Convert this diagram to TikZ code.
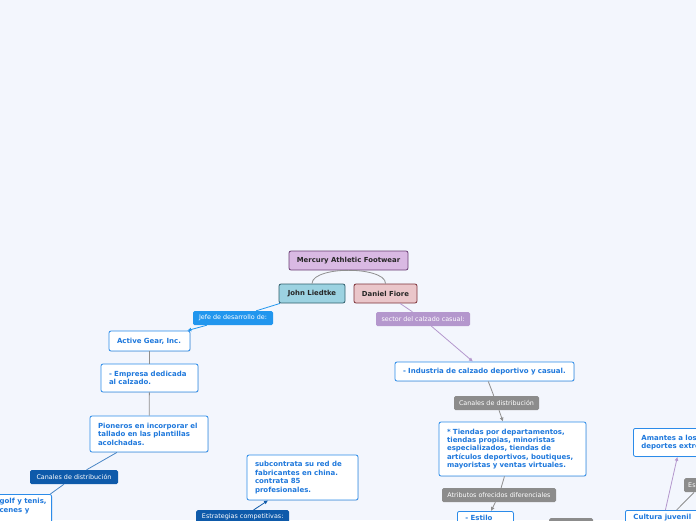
\documentclass[tikz,border=0pt]{standalone}
\usepackage{fontspec}
\setmainfont{DejaVu Sans}
\usetikzlibrary{positioning,shadows,arrows.meta}

\definecolor{canvas}{HTML}{F3F6FD}
\definecolor{mercfill}{HTML}{D9B9E3}
\definecolor{mercline}{HTML}{6A3F74}
\definecolor{johnfill}{HTML}{9CD2E1}
\definecolor{johnline}{HTML}{2F5E6C}
\definecolor{danfill}{HTML}{EAC6CA}
\definecolor{danline}{HTML}{7C3239}
\definecolor{leafblue}{HTML}{2B8BE9}
\definecolor{leaftext}{HTML}{1E78DC}
\definecolor{tagblue}{HTML}{2196EE}
\definecolor{tagnavy}{HTML}{0E5AAA}
\definecolor{tagpurple}{HTML}{B497CD}
\definecolor{taggray}{HTML}{8C8C8C}
\definecolor{linegray}{HTML}{8E8E8E}
\definecolor{steel}{HTML}{4A86C5}

\begin{document}
\begin{tikzpicture}[
    x=1pt,y=-1pt,
    topic/.style={rectangle,draw,line width=0.8pt,rounded corners=2pt,font=\fontsize{6.9}{8}\selectfont\bfseries,text=black!85,inner sep=0pt},
    leaf/.style={rectangle,draw=leafblue,line width=0.8pt,fill=white,rounded corners=2pt,text=leaftext,font=\fontsize{7}{8.4}\selectfont\bfseries,align=left,inner xsep=8pt,inner ysep=4pt,drop shadow={shadow xshift=0.6pt,shadow yshift=-0.6pt,opacity=0.2}},
    tag/.style={rectangle,rounded corners=1.5pt,text=white,font=\fontsize{6.4}{7}\selectfont,minimum height=14pt,inner xsep=4pt,inner ysep=0pt},
    link/.style={line width=0.8pt},
    arrow/.style={link,-{Latex[length=4pt,width=4pt]}}
]
    \useasboundingbox (0,0) rectangle (696,520);
    \clip (0,0) rectangle (696,520);
    \fill[canvas] (0,0) rectangle (696,520);

    % Central topic and the two people
    \node[topic,fill=mercfill,draw=mercline,minimum width=119pt,minimum height=19pt] (mercury) at (348.5,260.5) {Mercury Athletic Footwear};
    \node[topic,fill=johnfill,draw=johnline,minimum width=66pt,minimum height=19pt] (john) at (312,293.5) {John Liedtke};
    \node[topic,fill=danfill,draw=danline,minimum width=63pt,minimum height=19pt] (daniel) at (385.5,293.5) {Daniel Fiore};

    % Left branch
    \node[tag,fill=tagblue,minimum width=80pt] (jefe) at (233,318) {Jefe de desarrollo de:};
    \node[leaf,text width=65pt,minimum height=20pt] (active) at (149.5,341) {Active Gear, Inc.};
    \node[leaf,text width=81pt,minimum height=28pt] (empresa) at (149.5,378) {- Empresa dedicada\\al calzado.};
    \node[leaf,text width=102pt,minimum height=36pt] (pioneros) at (149,434) {Pioneros en incorporar el\\tallado en las plantillas\\acolchadas.};
    \node[tag,fill=tagnavy,minimum width=88pt] (canalesA) at (74,477) {Canales de distribución};
    \node[leaf,anchor=north east,inner xsep=5pt] (golf) at (52,494) {golf y tenis,\\cenes y\\\mbox{}\\\mbox{}};
    \node[tag,fill=tagnavy,anchor=north west,minimum width=93pt] (estrat) at (196,510) {Estrategias competitivas:};
    \node[leaf,text width=95pt,minimum height=45pt] (subcon) at (302.5,477.5) {subcontrata su red de\\fabricantes en china.\\contrata 85\\profesionales.};

    % Right branch
    \node[tag,fill=tagpurple,minimum width=94pt] (sector) at (423,319) {sector del calzado casual:};
    \node[leaf,text width=163pt,minimum height=19pt] (industria) at (484.5,371.5) {- Industria de calzado deportivo y casual.};
    \node[tag,fill=taggray,minimum width=85pt] (canalesB) at (496.5,403) {Canales de distribución};
    \node[leaf,text width=131pt,minimum height=54pt] (tiendas) at (512.5,449) {* Tiendas por departamentos,\\tiendas propias, minoristas\\especializados, tiendas de\\artículos deportivos, boutiques,\\mayoristas y ventas virtuales.};
    \node[tag,fill=taggray,minimum width=114pt] (atributos) at (499,495) {Atributos ofrecidos diferenciales};
    \node[leaf,anchor=north west,text width=40pt] (estilo) at (457,511) {- Estilo\\\mbox{}};
    \node[tag,fill=taggray,anchor=north west,minimum width=44pt] (otro) at (549,518) {};
    \node[leaf,anchor=north west,text width=64pt] (cultura) at (625,510) {Cultura juvenil\\\mbox{}};
    \node[leaf,anchor=north west,text width=72pt,minimum height=28pt] (amantes) at (633,428) {Amantes a los\\deportes extre};
    \node[tag,fill=taggray,anchor=north west,text width=26pt,align=left] (es) at (684,478) {Es};

    % Connectors
    \draw[link,linegray] (mercury.south) .. controls (334,270) and (312,274) .. (john.north);
    \draw[link,linegray] (mercury.south) .. controls (363,270) and (386,274) .. (daniel.north);
    \draw[link,tagblue] (john) -- (jefe);
    \draw[arrow,tagblue] (jefe) -- (active);
    \draw[link,linegray] (active) -- (empresa);
    \draw[link,linegray] (empresa) -- (pioneros);
    \draw[link,steel] (pioneros) -- (canalesA);
    \draw[link,steel] (canalesA) -- (golf);
    \draw[arrow,tagnavy] (estrat) -- (subcon);
    \draw[link,tagpurple] (daniel) -- (sector);
    \draw[arrow,tagpurple] (sector) -- (industria);
    \draw[link,linegray] (industria) -- (canalesB);
    \draw[arrow,linegray] (canalesB) -- (tiendas);
    \draw[link,linegray] (tiendas) -- (atributos);
    \draw[arrow,linegray] (atributos) -- (estilo);
    \draw[arrow,linegray] (otro) -- (cultura);
    \draw[arrow,tagpurple] (cultura.north) -- (amantes.south);
    \draw[link,linegray] (cultura) -- (es);
\end{tikzpicture}
\end{document}
